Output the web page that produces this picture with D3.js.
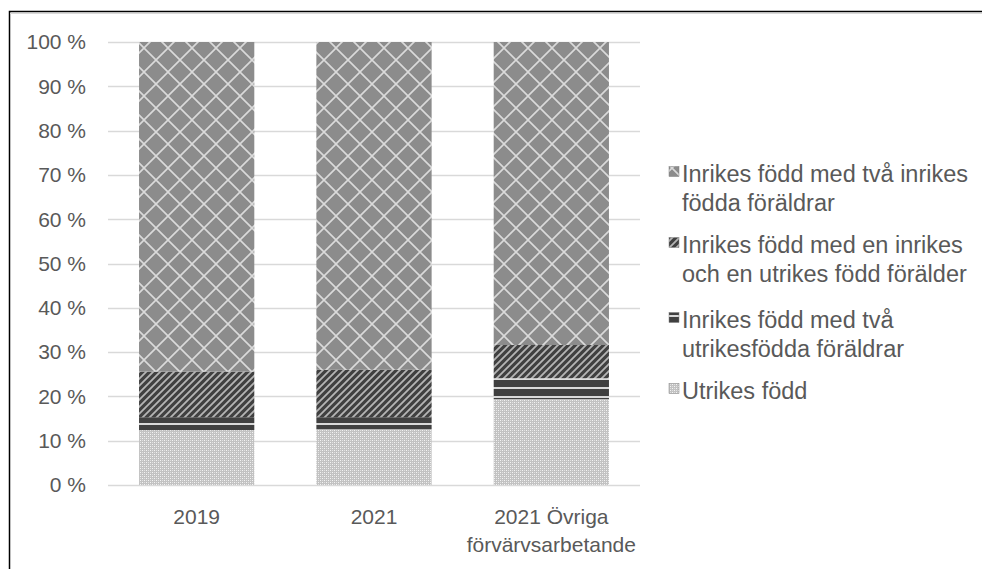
<!DOCTYPE html>
<html><head><meta charset="utf-8">
<script src="https://cdn.jsdelivr.net/npm/d3@7"></script>
<style>
html,body{margin:0;padding:0;background:#fff;}
svg text{font-family:"Liberation Sans",Arial,sans-serif;fill:#595959;}
</style></head>
<body>
<svg id="chart" width="982" height="569"></svg>
<script>
const categories = ["2019", "2021", "2021 Övriga förvärvsarbetande"];
const categoryLines = [["2019"], ["2021"], ["2021 Övriga", "förvärvsarbetande"]];
const seriesNames = [
  "Utrikes född",
  "Inrikes född med två utrikesfödda föräldrar",
  "Inrikes född med en inrikes och en utrikes född förälder",
  "Inrikes född med två inrikes födda föräldrar"
];
const utrikesFodd = [12.4, 12.6, 19.4];
const tvaUtrikesForaldrar = [2.9, 2.7, 4.7];
const enInrikesEnUtrikes = [10.3, 10.7, 7.5];
const tvaInrikesForaldrar = [74.4, 74.0, 68.4];
const yTicks = [0, 10, 20, 30, 40, 50, 60, 70, 80, 90, 100];
const legendLines = [
  ["Inrikes född med två inrikes", "födda föräldrar"],
  ["Inrikes född med en inrikes", "och en utrikes född förälder"],
  ["Inrikes född med två", "utrikesfödda föräldrar"],
  ["Utrikes född"]
];

const svg = d3.select("#chart");
const defs = svg.append("defs");

// patterns
const p0 = defs.append("pattern").attr("id","pat0").attr("patternUnits","userSpaceOnUse").attr("width",4).attr("height",4);
p0.append("rect").attr("width",4).attr("height",4).attr("fill","#c2c2c2");
p0.append("rect").attr("x",0).attr("y",0).attr("width",1).attr("height",1).attr("fill","#f4f4f4");
p0.append("rect").attr("x",2).attr("y",2).attr("width",1).attr("height",1).attr("fill","#f4f4f4");
p0.append("rect").attr("x",2).attr("y",0).attr("width",1).attr("height",1).attr("fill","#e0e0e0");
p0.append("rect").attr("x",0).attr("y",2).attr("width",1).attr("height",1).attr("fill","#e0e0e0");

const p1 = defs.append("pattern").attr("id","pat1").attr("patternUnits","userSpaceOnUse").attr("width",10).attr("height",9);
p1.append("rect").attr("width",10).attr("height",9).attr("fill","#404040");
p1.append("rect").attr("y",0).attr("width",10).attr("height",2).attr("fill","#d9d9d9");

const p2 = defs.append("pattern").attr("id","pat2").attr("patternUnits","userSpaceOnUse").attr("width",7).attr("height",7);
p2.append("rect").attr("width",7).attr("height",7).attr("fill","#404040");
p2.append("path").attr("d","M-2,2 L2,-2 M0,7 L7,0 M5,9 L9,5").attr("stroke","#b5b5b5").attr("stroke-width",1.8);

const p3 = defs.append("pattern").attr("id","pat3").attr("patternUnits","userSpaceOnUse").attr("width",24).attr("height",24);
p3.append("rect").attr("width",24).attr("height",24).attr("fill","#8c8c8c");
p3.append("path").attr("d","M0,0 L24,24 M24,0 L0,24").attr("stroke","#dadada").attr("stroke-width",1.6);

const fills = ["url(#pat0)","url(#pat1)","url(#pat2)","url(#pat3)"];

// frame
svg.append("rect").attr("x",9.5).attr("y",11.5).attr("width",1000).attr("height",600)
  .attr("fill","none").attr("stroke","#000").attr("stroke-width",1.5);
svg.append("line").attr("x1",10).attr("x2",982).attr("y1",13.5).attr("y2",13.5).attr("stroke","#d9d9d9").attr("stroke-width",1);

const x = d3.scaleBand().domain(categories).range([108, 640]).paddingInner(0.35).paddingOuter(0.175);
const y = d3.scaleLinear().domain([0, 100]).range([485, 42]);

// gridlines
svg.append("g").selectAll("line").data(yTicks).join("line")
  .attr("x1",108).attr("x2",640)
  .attr("y1",d=>Math.round(y(d))+0.5).attr("y2",d=>Math.round(y(d))+0.5)
  .attr("stroke","#d9d9d9").attr("stroke-width",1.3);

// y labels
svg.append("g").selectAll("text").data(yTicks).join("text")
  .attr("x",86).attr("y",d=>y(d)).attr("dy","0.35em")
  .attr("text-anchor","end").attr("font-size",21)
  .text(d=>d+" %");

// stacked data
const rows = categories.map((c,i)=>({cat:c, s0:utrikesFodd[i], s1:tvaUtrikesForaldrar[i], s2:enInrikesEnUtrikes[i], s3:tvaInrikesForaldrar[i]}));
const stack = d3.stack().keys(["s0","s1","s2","s3"])(rows);

svg.append("g").selectAll("g").data(stack).join("g")
  .attr("fill",(d,i)=>fills[i])
  .selectAll("rect").data(d=>d).join("rect")
  .attr("x",d=>x(d.data.cat)).attr("width",x.bandwidth())
  .attr("y",d=>y(Math.min(100,d[1]))).attr("height",d=>y(d[0])-y(Math.min(100,d[1])));

// x labels
categories.forEach((c,i)=>{
  const t = svg.append("text").attr("text-anchor","middle").attr("font-size",21)
    .attr("x", x(c)+x.bandwidth()/2).attr("y",524);
  categoryLines[i].forEach((ln,j)=>{
    t.append("tspan").attr("x", x(c)+x.bandwidth()/2).attr("y",524+j*28).text(ln);
  });
});

// legend (top to bottom = series 3..0)
const legendBase = [181.5, 252.5, 327.5, 398.5];
const legendFill = [fills[3], fills[2], fills[1], fills[0]];
legendLines.forEach((lines,i)=>{
  const by = legendBase[i];
  svg.append("rect").attr("x",669).attr("y",by-15).attr("width",10).attr("height",10)
    .attr("fill",legendFill[i]).attr("stroke","#7f7f7f").attr("stroke-width",0.5);
  const t = svg.append("text").attr("font-size",23.5);
  lines.forEach((ln,j)=>{
    t.append("tspan").attr("x",682).attr("y",by+j*29).text(ln);
  });
});
</script>
</body></html>
